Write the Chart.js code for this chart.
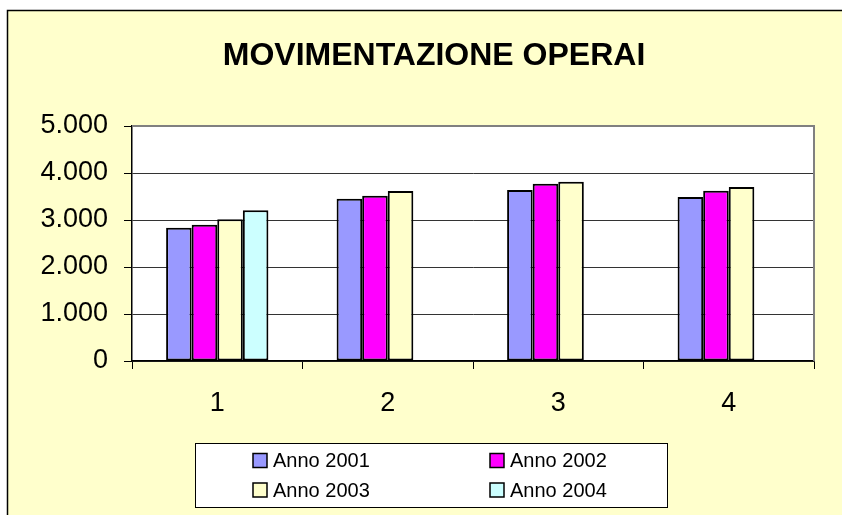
<!DOCTYPE html>
<html>
<head>
<meta charset="utf-8">
<script src="https://cdn.jsdelivr.net/npm/chart.js@4/dist/chart.umd.min.js"></script>
<style>
html, body { margin: 0; padding: 0; background: #fff; }
</style>
</head>
<body>
<canvas id="grafico" width="842" height="515"></canvas>
<script>
var categorie = ['1', '2', '3', '4'];
var anno2001 = [2836, 3453, 3638, 3489];
var anno2002 = [2900, 3517, 3772, 3623];
var anno2003 = [3014, 3617, 3815, 3702];
var anno2004 = [3206, null, null, null];
var etichetteY = ['0', '1.000', '2.000', '3.000', '4.000', '5.000'];

var font = '"Liberation Sans", Arial, sans-serif';

// sfondo giallo con cornice, area del grafico bianca
var sfondo = {
    id: 'sfondo',
    afterLayout: function(chart) {
        // il titolo in Excel e' centrato un po' piu' a destra
        if (chart.titleBlock) chart.titleBlock.left += 54;
    },
    beforeDraw: function(chart) {
        var ctx = chart.ctx;
        var a = chart.chartArea;
        ctx.save();
        ctx.fillStyle = '#fff';
        ctx.fillRect(0, 0, chart.width, chart.height);
        ctx.fillStyle = '#FFFFCC';
        ctx.fillRect(7, 10, chart.width - 7, chart.height - 10);
        ctx.strokeStyle = '#000';
        ctx.lineWidth = 1.5;
        ctx.beginPath();
        ctx.moveTo(7.5, chart.height);
        ctx.lineTo(7.5, 10.5);
        ctx.lineTo(chart.width, 10.5);
        ctx.stroke();
        ctx.fillStyle = '#fff';
        ctx.fillRect(a.left, a.top, a.right - a.left, a.bottom - a.top);
        ctx.restore();
    },
    afterDraw: function(chart) {
        var ctx = chart.ctx;
        var a = chart.chartArea;
        ctx.save();
        ctx.strokeStyle = '#808080';
        ctx.lineWidth = 2;
        ctx.beginPath();
        ctx.moveTo(a.left, a.top);
        ctx.lineTo(a.right, a.top);
        ctx.lineTo(a.right, a.bottom);
        ctx.stroke();
        ctx.restore();
    }
};

// legenda su due colonne dentro un riquadro
var legenda = {
    id: 'legenda',
    afterDraw: function(chart) {
        var ctx = chart.ctx;
        var x0 = 195, y0 = 443, w = 472, h = 64;
        var colX = [253, 490];
        var rigaY = [460.5, 490];
        ctx.save();
        ctx.fillStyle = '#fff';
        ctx.fillRect(x0, y0, w, h);
        ctx.strokeStyle = '#000';
        ctx.lineWidth = 1;
        ctx.strokeRect(x0 + 0.5, y0 + 0.5, w, h);
        ctx.font = '20px ' + font;
        ctx.textBaseline = 'middle';
        ctx.textAlign = 'left';
        chart.data.datasets.forEach(function(ds, i) {
            var x = colX[i % 2];
            var y = rigaY[Math.floor(i / 2)];
            ctx.fillStyle = ds.backgroundColor;
            ctx.fillRect(x, y - 7, 14, 14);
            ctx.lineWidth = 1.5;
            ctx.strokeStyle = '#000';
            ctx.strokeRect(x, y - 7, 14, 14);
            ctx.fillStyle = '#000';
            ctx.fillText(ds.label, x + 20, y + 1);
        });
        ctx.restore();
    }
};

var ctx = document.getElementById('grafico').getContext('2d');

var chart = new Chart(ctx, {
    type: 'bar',
    data: {
        labels: categorie,
        datasets: [
            { label: 'Anno 2001', data: anno2001, backgroundColor: '#9999FF' },
            { label: 'Anno 2002', data: anno2002, backgroundColor: '#FF00FF' },
            { label: 'Anno 2003', data: anno2003, backgroundColor: '#FFFFCC' },
            { label: 'Anno 2004', data: anno2004, backgroundColor: '#CCFFFF' }
        ]
    },
    options: {
        responsive: false,
        animation: false,
        layout: { padding: { left: 0, right: 28, top: 0, bottom: 0 } },
        datasets: {
            bar: {
                borderColor: '#000',
                borderWidth: 2,
                borderSkipped: false,
                categoryPercentage: 0.6,
                barPercentage: 1.0
            }
        },
        plugins: {
            legend: { display: false },
            tooltip: { enabled: false },
            title: {
                display: true,
                text: 'MOVIMENTAZIONE OPERAI',
                color: '#000',
                font: { family: font, size: 32, weight: 'bold', lineHeight: 1.2 },
                padding: { top: 37, bottom: 50.6 }
            }
        },
        scales: {
            x: {
                grid: {
                    offset: true,
                    drawOnChartArea: false,
                    drawTicks: true,
                    tickLength: 8,
                    tickColor: '#000',
                    tickWidth: 1
                },
                border: { display: true, color: '#000', width: 1.5 },
                ticks: {
                    color: '#000',
                    padding: 18,
                    font: { family: font, size: 27 }
                },
                afterFit: function(scale) { scale.height = 154; }
            },
            y: {
                min: 0,
                max: 5000,
                ticks: {
                    stepSize: 1000,
                    color: '#000',
                    padding: 16,
                    font: { family: font, size: 27 },
                    callback: function(value, index) { return etichetteY[index]; }
                },
                grid: {
                    color: function(c) { return c.tick && c.tick.value === 5000 ? 'rgba(0,0,0,0)' : '#333'; },
                    lineWidth: 1,
                    tickLength: 8,
                    tickColor: '#000',
                    tickWidth: 1
                },
                border: { display: true, color: '#000', width: 1.5 },
                afterFit: function(scale) { scale.width = 132; }
            }
        }
    },
    plugins: [sfondo, legenda]
});
</script>
</body>
</html>
